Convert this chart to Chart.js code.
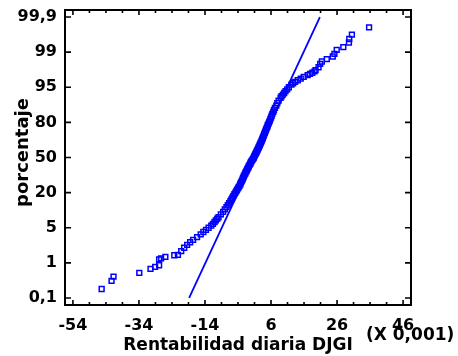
<!DOCTYPE html>
<html>
<head>
<meta charset="utf-8">
<script src="https://cdn.jsdelivr.net/npm/chart.js"></script>
<style>
  html, body { margin: 0; padding: 0; background: #ffffff; }
  #c { display: block; }
</style>
</head>
<body>
<canvas id="c" width="458" height="356"></canvas>
<script>
// ---------------- data ----------------
const X_TICKS = [-54, -34, -14, 6, 26, 46];
const Y_TICKS = [0.1, 1, 5, 20, 50, 80, 95, 99, 99.9];
const Y_TICK_LABELS = ['0,1', '1', '5', '20', '50', '80', '95', '99', '99,9'];

// daily return (x 0.001), sorted
const returns = [
  -45.3, -42.3, -41.7, -33.9, -30.5, -29.1, -27.9, -27.9, -27.3, -26.0, -23.3,
  -22.2, -21.2, -20.3, -19.4, -18.5, -17.6, -16.4, -15.3, -14.5, -13.7, -12.9,
  -12.1, -11.6, -11.1, -10.7, -10.3, -9.9, -9.2, -8.5, -8.0, -7.5, -7.1, -6.7, -6.3, -6.0, -5.7, -5.4, -5.1, -4.8,
  -4.5, -4.3, -4.0, -3.8, -3.5, -3.3, -3.2, -3.0, -2.8, -2.6, -2.5, -2.3, -2.2, -2.0, -1.8, -1.7, -1.5, -1.3, -1.2, -1.0,
  -0.8, -0.7, -0.5, -0.3, -0.2, 0.0, 0.2, 0.4, 0.6, 0.8,
  0.9, 1.1, 1.2, 1.4, 1.6, 1.7, 1.9, 2.0, 2.2, 2.3, 2.5, 2.6, 2.8, 2.9, 3.1, 3.2, 3.4, 3.5, 3.6, 3.8,
  3.9, 4.1, 4.2, 4.4, 4.5, 4.7, 4.9, 5.0, 5.2, 5.4,
  5.6, 5.8, 6.0, 6.2, 6.4, 6.7, 6.9, 7.2, 7.6, 7.9, 8.3, 8.9, 9.2, 9.6, 10.0, 10.4, 10.9, 11.4,
  12.2, 12.7, 13.3, 14.1, 15.0, 15.9, 17.1, 17.8, 18.5, 19.2, 19.5, 20.4, 20.9,
  21.4, 22.9, 24.7, 25.2, 25.9, 27.9, 29.6, 29.7, 30.5, 35.7
];
// cumulative percentage for each return
const percents = [
  0.19, 0.33, 0.43, 0.55, 0.70, 0.79, 0.87, 1.20, 1.26, 1.35, 1.47,
  1.5, 1.8, 2.1, 2.4, 2.7, 3.0, 3.4, 3.8, 4.2, 4.6, 5.0,
  5.5, 6, 6.5, 7, 7.5, 8, 9, 10, 11, 12, 13, 14, 15, 16, 17, 18, 19, 20,
  21, 22, 23, 24, 25, 26, 27, 28, 29, 30, 31, 32, 33, 34, 35, 36, 37, 38, 39, 40,
  41, 42, 43, 44, 45, 46, 47, 48, 49, 50,
  51, 52, 53, 54, 55, 56, 57, 58, 59, 60, 61, 62, 63, 64, 65, 66, 67, 68, 69, 70,
  71, 72, 73, 74, 75, 76, 77, 78, 79, 80,
  81, 82, 83, 84, 85, 86, 87, 88, 89, 90, 91, 92, 92.5, 93, 93.5, 94, 94.5, 95,
  95.5, 95.75, 96, 96.25, 96.5, 96.75, 97, 97.15, 97.3, 97.45, 97.6, 97.9, 98.2,
  98.40, 98.57, 98.75, 98.91, 99.12, 99.26, 99.44, 99.55, 99.66, 99.79
];

// fitted normal line (end points)
const fitX = [-18.8, 20.8];
const fitPct = [0.1, 99.9];

// ---------------- probability scale ----------------
function probit(p) {
  const a = [-3.969683028665376e+01, 2.209460984245205e+02, -2.759285104469687e+02, 1.383577518672690e+02, -3.066479806614716e+01, 2.506628277459239e+00];
  const b = [-5.447609879822406e+01, 1.615858368580409e+02, -1.556989798598866e+02, 6.680131188771972e+01, -1.328068155288572e+01];
  const c = [-7.784894002430293e-03, -3.223964580411365e-01, -2.400758277161838e+00, -2.549732539343734e+00, 4.374664141464968e+00, 2.938163982698783e+00];
  const d = [7.784695709041462e-03, 3.224671290700398e-01, 2.445134137142996e+00, 3.754408661907416e+00];
  const pl = 0.02425, ph = 1 - pl;
  let q, r;
  if (p < pl) {
    q = Math.sqrt(-2 * Math.log(p));
    return (((((c[0]*q+c[1])*q+c[2])*q+c[3])*q+c[4])*q+c[5]) / ((((d[0]*q+d[1])*q+d[2])*q+d[3])*q+1);
  }
  if (p > ph) {
    q = Math.sqrt(-2 * Math.log(1 - p));
    return -(((((c[0]*q+c[1])*q+c[2])*q+c[3])*q+c[4])*q+c[5]) / ((((d[0]*q+d[1])*q+d[2])*q+d[3])*q+1);
  }
  q = p - 0.5; r = q * q;
  return (((((a[0]*r+a[1])*r+a[2])*r+a[3])*r+a[4])*r+a[5])*q / (((((b[0]*r+b[1])*r+b[2])*r+b[3])*r+b[4])*r+1);
}
function normCdf(z) {
  const t = 1 / (1 + 0.2316419 * Math.abs(z));
  const dd = 0.3989423 * Math.exp(-z * z / 2);
  const pr = dd * t * (0.3193815 + t * (-0.3565638 + t * (1.781478 + t * (-1.821256 + t * 1.330274))));
  return z > 0 ? 1 - pr : pr;
}
const TZ = Y_TICKS.map(p => probit(p / 100));
function pctToIndex(v) {
  const z = probit(v / 100);
  let k = 0;
  while (k < TZ.length - 2 && z > TZ[k + 1]) k++;
  return k + (z - TZ[k]) / (TZ[k + 1] - TZ[k]);
}
function indexToPct(idx) {
  let k = Math.max(0, Math.min(TZ.length - 2, Math.floor(idx)));
  const z = TZ[k] + (idx - k) * (TZ[k + 1] - TZ[k]);
  return normCdf(z) * 100;
}

class PercentScale extends Chart.Scale {
  determineDataLimits() {
    this.min = this.options.min;
    this.max = this.options.max;
    this._lo = pctToIndex(this.min);
    this._hi = pctToIndex(this.max);
  }
  buildTicks() {
    return Y_TICKS.map(v => ({ value: v }));
  }
  getPixelForValue(v) {
    return this.getPixelForDecimal((pctToIndex(v) - this._lo) / (this._hi - this._lo));
  }
  getValueForPixel(px) {
    return indexToPct(this._lo + this.getDecimalForPixel(px) * (this._hi - this._lo));
  }
  getLabelForValue(v) {
    return String(v).replace('.', ',');
  }
}
PercentScale.id = 'percent';
PercentScale.defaults = {};
Chart.register(PercentScale);

// ---------------- frame, inner ticks and extra texts ----------------
const FONT = '"DejaVu Sans", "Liberation Sans", Arial, sans-serif';
const framePlugin = {
  id: 'frame',
  afterDatasetsDraw(chart) {
    const { ctx, chartArea: a, scales } = chart;
    const xs = scales.x, ys = scales.y;
    ctx.save();
    ctx.strokeStyle = '#000';
    ctx.lineWidth = 1.6;
    ctx.beginPath();
    for (let v = X_TICKS[0]; v <= X_TICKS[X_TICKS.length - 1]; v += 5) {
      const px = xs.getPixelForValue(v);
      const len = X_TICKS.includes(v) ? 5 : 3;
      ctx.moveTo(px, a.bottom); ctx.lineTo(px, a.bottom - len);
      ctx.moveTo(px, a.top); ctx.lineTo(px, a.top + len);
    }
    Y_TICKS.forEach(v => {
      const py = ys.getPixelForValue(v);
      ctx.moveTo(a.left, py); ctx.lineTo(a.left + 6, py);
      ctx.moveTo(a.right, py); ctx.lineTo(a.right - 6, py);
    });
    ctx.stroke();
    ctx.lineWidth = 2;
    ctx.strokeRect(a.left, a.top, a.right - a.left, a.bottom - a.top);

    ctx.fillStyle = '#000';
    ctx.font = 'bold 18px ' + FONT;
    ctx.textBaseline = 'middle';
    ctx.textAlign = 'center';
    ctx.save();
    ctx.translate(23, (a.top + a.bottom) / 2 - 5);
    ctx.rotate(-Math.PI / 2);
    ctx.fillText('porcentaje', 0, 0);
    ctx.restore();

    ctx.font = 'bold 17px ' + FONT;
    ctx.textAlign = 'left';
    ctx.fillText('(X 0,001)', 366, 336);
    ctx.restore();
  }
};

// ---------------- chart ----------------
const tickFont = { family: FONT, weight: 'bold', size: 16 };

new Chart(document.getElementById('c'), {
  type: 'scatter',
  data: {
    datasets: [
      {
        label: 'ajuste',
        data: fitX.map((x, i) => ({ x: x, y: fitPct[i] })),
        showLine: true,
        borderColor: '#0000ff',
        borderWidth: 1.8,
        pointRadius: 0,
        fill: false
      },
      {
        label: 'Rentabilidad diaria DJGI',
        data: returns.map((x, i) => ({ x: x, y: percents[i] })),
        showLine: false,
        pointStyle: 'rect',
        pointRadius: 3.4,
        pointBorderWidth: 1.5,
        borderColor: '#0000ff',
        pointBorderColor: '#0000ff',
        pointBackgroundColor: 'rgba(0,0,0,0)',
        backgroundColor: 'rgba(0,0,0,0)'
      }
    ]
  },
  options: {
    responsive: false,
    animation: false,
    devicePixelRatio: 1,
    layout: { padding: { left: 0, right: 47, top: 10, bottom: 0 } },
    plugins: { legend: { display: false }, tooltip: { enabled: false } },
    scales: {
      x: {
        type: 'linear',
        position: 'bottom',
        min: -56.4,
        max: 48.4,
        afterBuildTicks: s => { s.ticks = X_TICKS.map(v => ({ value: v })); },
        afterFit: s => { s.height = 51; s.paddingLeft = 0; s.paddingRight = 0; },
        grid: { display: false, drawTicks: false },
        border: { display: false },
        ticks: { autoSkip: false, maxRotation: 0, padding: 11, color: '#000', font: tickFont },
        title: {
          display: true,
          text: 'Rentabilidad diaria DJGI',
          color: '#000',
          font: { family: FONT, weight: 'bold', size: 17 },
          padding: { top: 0, bottom: 0 }
        }
      },
      y: {
        type: 'percent',
        position: 'left',
        min: 0.0592,
        max: 99.9408,
        grace: 0,
        afterFit: s => { s.width = 65; s.paddingTop = 0; s.paddingBottom = 0; },
        grid: { display: false, drawTicks: false },
        border: { display: false },
        ticks: {
          autoSkip: false,
          padding: 8,
          color: '#000',
          font: tickFont,
          callback: (v, i) => Y_TICK_LABELS[i]
        }
      }
    }
  },
  plugins: [framePlugin]
});
</script>
</body>
</html>
